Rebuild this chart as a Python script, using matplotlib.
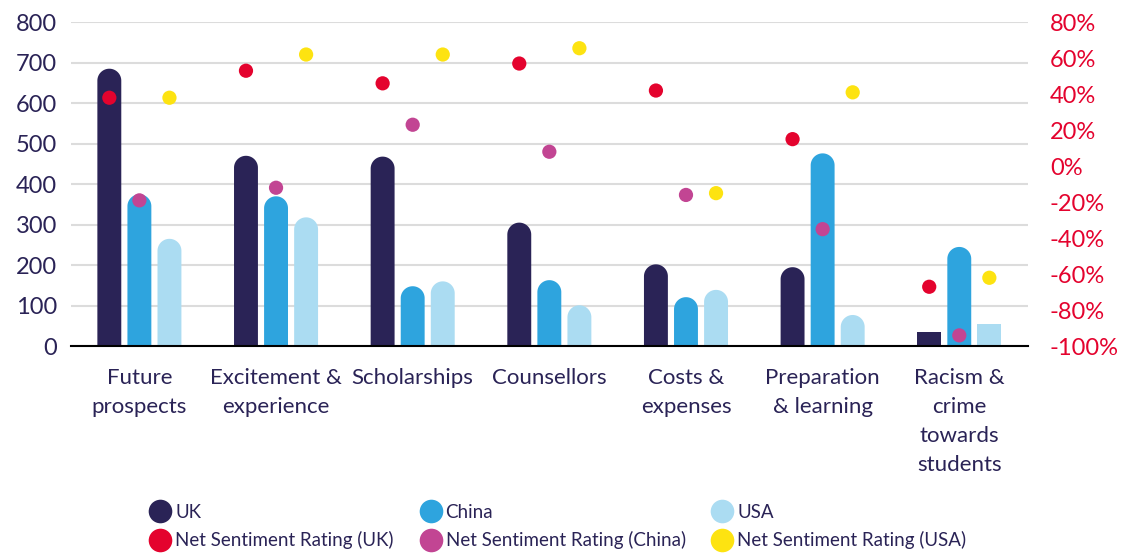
import matplotlib
matplotlib.use("Agg")
import matplotlib.pyplot as plt
import numpy as np
from matplotlib.patches import Polygon, Rectangle
from matplotlib.lines import Line2D

categories = ["Future\nprospects", "Excitement &\nexperience", "Scholarships", "Counsellors",
              "Costs &\nexpenses", "Preparation\n& learning", "Racism &\ncrime\ntowards\nstudents"]
uk = [685, 470, 468, 305, 202, 195, 35]
china = [375, 370, 148, 163, 121, 476, 245]
usa = [265, 318, 160, 101, 139, 77, 54]
nsr_uk = [38, 53, 46, 57, 42, 15, -67]
nsr_china = [-19, -12, 23, 8, -16, -35, -94]
nsr_usa = [38, 62, 62, 65.5, -15, 41, -62]
left_ticks = [0, 100, 200, 300, 400, 500, 600, 700, 800]
right_ticks = [-100, -80, -60, -40, -20, 0, 20, 40, 60, 80]

C_UK = "#2a2356"
C_CN = "#2ea4de"
C_US = "#abdcf2"
C_RED = "#e4032e"
C_MAG = "#c24593"
C_YEL = "#fde311"
TXT = "#2a2356"

plt.rcParams['font.family'] = ['Lato', 'DejaVu Sans']

fig = plt.figure(figsize=(11.28, 5.53), dpi=100)
ax = fig.add_axes([0.063, 0.374, 0.848, 0.586])
ax2 = ax.twinx()

n = len(categories)
x = np.arange(n)
bw = 0.175
offs = [-0.22, 0.0, 0.22]
ax.set_xlim(-0.5, n - 0.5)
ax.set_ylim(0, 800)
ax2.set_ylim(-100, 80)

# pixel-to-data conversion for rounded caps
fig.canvas.draw()
ax_h_px = ax.get_window_extent().height
ax_w_px = ax.get_window_extent().width
bw_px = bw / n * ax_w_px
r_data = (bw_px / 2) / ax_h_px * 800
t = np.linspace(np.pi, 0, 40)

for series, col, off in [(uk, C_UK, offs[0]), (china, C_CN, offs[1]), (usa, C_US, offs[2])]:
    for xi, v in zip(x, series):
        cx = xi + off
        if v > 2 * r_data:
            xs = np.concatenate([[cx - bw / 2], cx + bw / 2 * np.cos(t), [cx + bw / 2]])
            ys = np.concatenate([[0], v - r_data + r_data * np.sin(t), [0]])
            ax.add_patch(Polygon(np.column_stack([xs, ys]), closed=True, facecolor=col,
                                 edgecolor='none', zorder=2))
        else:
            ax.add_patch(Rectangle((cx - bw / 2, 0), bw, v, facecolor=col, edgecolor='none', zorder=2))

for series, col, off in [(nsr_uk, C_RED, offs[0]), (nsr_china, C_MAG, offs[1]), (nsr_usa, C_YEL, offs[2])]:
    ax2.scatter(x + off, series, s=105, color=col, edgecolors='none', zorder=3)

ax.set_yticks(left_ticks)
ax.set_yticklabels([str(t) for t in left_ticks], fontsize=17, color=TXT)
ax2.set_yticks(right_ticks)
ax2.set_yticklabels([f"{t}%" for t in right_ticks], fontsize=17, color=C_RED)
ax.set_xticks(x)
ax.set_xticklabels(categories, fontsize=16, color=TXT, linespacing=1.55)
ax.tick_params(axis='both', length=0)
ax.tick_params(axis='x', pad=16)
ax.tick_params(axis='y', pad=10)
ax2.tick_params(axis='y', length=0, pad=16)

ax.grid(axis='y', color='#dcdcdc', linewidth=1.5, zorder=0)
ax.set_axisbelow(True)
for a in (ax, ax2):
    for s in ['top', 'right', 'left', 'bottom']:
        a.spines[s].set_visible(False)
ax.spines['bottom'].set_visible(True)
ax.spines['bottom'].set_color('black')
ax.spines['bottom'].set_linewidth(1.5)

def h(col, label):
    return Line2D([], [], marker='o', linestyle='none', markersize=17, markerfacecolor=col,
                  markeredgecolor='none', label=label)

handles = [h(C_UK, "UK"), h(C_RED, "Net Sentiment Rating (UK)"),
           h(C_CN, "China"), h(C_MAG, "Net Sentiment Rating (China)"),
           h(C_US, "USA"), h(C_YEL, "Net Sentiment Rating (USA)")]
leg = fig.legend(handles=handles, ncol=3, loc='lower left', bbox_to_anchor=(0.119, -0.024),
                 frameon=False, fontsize=13.5, handletextpad=0.3, columnspacing=1.45,
                 labelspacing=0.55, handlelength=1.0)
for tx in leg.get_texts():
    tx.set_color(TXT)

fig.savefig("out.png", dpi=100)
